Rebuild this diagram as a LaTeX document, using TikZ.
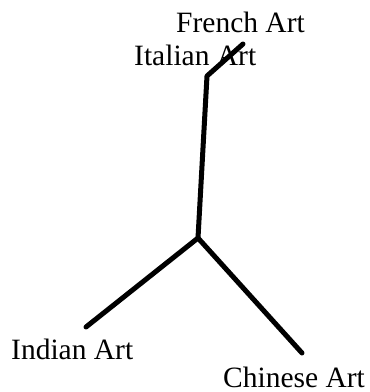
\documentclass[tikz,border=0pt]{standalone}
\usepackage{fontspec}
\setmainfont{Liberation Serif}
\begin{document}
\begin{tikzpicture}[x=1bp,y=-1bp,
  lbl/.style={anchor=base west,inner sep=0pt,font=\fontsize{29.5bp}{35bp}\selectfont},
  branch/.style={line width=5bp,line cap=round,line join=round}]
\useasboundingbox (0,0) rectangle (370,392);
\coordinate (J) at (198,238);
\coordinate (B) at (207,76);
\coordinate (F) at (243,44);
\coordinate (I) at (86,327);
\coordinate (C) at (302,353);
\node[lbl] (french) at (176,32) {French Art};
\node[lbl] (italian) at (134,65) {Italian Art};
\node[lbl] (indian) at (11,359) {Indian Art};
\node[lbl] (chinese) at (223,387) {Chinese Art};
\draw[branch] (I) -- (J) -- (C);
\draw[branch] (J) -- (B) -- (F);
\end{tikzpicture}
\end{document}
